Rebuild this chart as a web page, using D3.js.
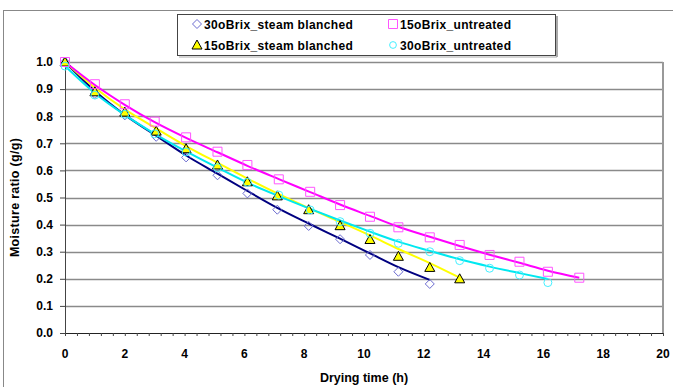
<!DOCTYPE html>
<html>
<head>
<meta charset="utf-8">
<script src="https://cdn.jsdelivr.net/npm/d3@7"></script>
<style>
  html, body { margin: 0; padding: 0; background: #fff; }
  svg text { font-family: "Liberation Sans", Arial, sans-serif; font-weight: bold; fill: #000; }
</style>
</head>
<body>
<svg id="chart" width="673" height="387"></svg>
<script>
// Measured points
const tBlanched = [0, 1, 2, 3.05, 4.05, 5.1, 6.1, 7.1, 8.15, 9.2, 10.2, 11.15, 12.2, 13.2];
const tUntreated = [0, 1, 2, 3, 4.05, 5.1, 6.1, 7.15, 8.2, 9.2, 10.2, 11.15, 12.2, 13.2, 14.2, 15.2, 16.15, 17.2];
const mr30Blanched = [1.0, 0.882, 0.803, 0.724, 0.648, 0.582, 0.515, 0.455, 0.395, 0.346, 0.288, 0.226, 0.181];
const mr15Blanched = [1.0, 0.89, 0.815, 0.745, 0.68, 0.62, 0.558, 0.506, 0.455, 0.396, 0.345, 0.283, 0.242, 0.2];
const mr15Untreated = [1.0, 0.918, 0.844, 0.78, 0.722, 0.669, 0.62, 0.567, 0.521, 0.472, 0.429, 0.39, 0.353, 0.325, 0.288, 0.263, 0.226, 0.204];
const mr30Untreated = [0.985, 0.878, 0.807, 0.735, 0.668, 0.61, 0.556, 0.509, 0.454, 0.411, 0.368, 0.331, 0.3, 0.267, 0.239, 0.214, 0.186];

// Fitted curves
const fit30Blanched = [1.0, 0.893, 0.805, 0.728, 0.655, 0.588, 0.524, 0.462, 0.404, 0.348, 0.294, 0.243, 0.196];
const fit15Blanched = [1.0, 0.905, 0.825, 0.755, 0.69, 0.628, 0.57, 0.515, 0.461, 0.41, 0.36, 0.31, 0.258, 0.204];
const fit15Untreated = [1.0, 0.915, 0.842, 0.778, 0.72, 0.667, 0.617, 0.568, 0.52, 0.474, 0.432, 0.392, 0.355, 0.321, 0.289, 0.259, 0.23, 0.204];
const fit30Untreated = [0.985, 0.885, 0.805, 0.735, 0.67, 0.61, 0.555, 0.505, 0.458, 0.415, 0.374, 0.337, 0.303, 0.272, 0.245, 0.221, 0.199];

const xTicks = [0, 2, 4, 6, 8, 10, 12, 14, 16, 18, 20];
const yTicks = [0, 0.1, 0.2, 0.3, 0.4, 0.5, 0.6, 0.7, 0.8, 0.9, 1.0];

const series = [
  { name: "30oBrix_steam blanched", t: tBlanched, v: mr30Blanched, fit: fit30Blanched, line: "#000080", marker: "diamond", stroke: "#6b6bd0", fill: "none" },
  { name: "15oBrix_steam blanched", t: tBlanched, v: mr15Blanched, fit: fit15Blanched, line: "#ffff00", marker: "triangle", stroke: "#000", fill: "#ffff00" },
  { name: "15oBrix_untreated", t: tUntreated, v: mr15Untreated, fit: fit15Untreated, line: "#ff00ff", marker: "square", stroke: "#ff55ff", fill: "none" },
  { name: "30oBrix_untreated", t: tUntreated, v: mr30Untreated, fit: fit30Untreated, line: "#00e8f0", marker: "circle", stroke: "#44f0ff", fill: "none" }
];

const svg = d3.select("#chart");
const m = { left: 65, right: 663, top: 62, bottom: 333 };
const FS = "12px";

const x = d3.scaleLinear().domain([0, 20]).range([m.left, m.right]);
const y = d3.scaleLinear().domain([0, 1]).range([m.bottom, m.top]);

// outer chart frame
svg.append("rect").attr("x", 3.5).attr("y", 10.5).attr("width", 700).attr("height", 400)
  .attr("fill", "none").attr("stroke", "#888").attr("stroke-width", 1);

// gridlines
svg.append("g").selectAll("line").data(yTicks.filter(d => d > 0)).join("line")
  .attr("x1", m.left).attr("x2", m.right)
  .attr("y1", d => Math.round(y(d)) + 0.5).attr("y2", d => Math.round(y(d)) + 0.5)
  .attr("stroke", "#8a8a8a").attr("stroke-width", 1.3);

// plot right border
svg.append("line").attr("x1", m.right).attr("x2", m.right).attr("y1", m.top).attr("y2", m.bottom)
  .attr("stroke", "#999").attr("stroke-width", 2);

// y axis
svg.append("g")
  .attr("transform", `translate(${m.left},0)`)
  .call(d3.axisLeft(y).tickValues(yTicks).tickSize(5).tickPadding(7).tickFormat(d3.format(".1f")))
  .call(ax => {
    ax.select(".domain").attr("stroke", "#444").attr("d", `M0.5,${m.top}V${m.bottom}`);
    ax.selectAll(".tick line").attr("stroke", "#444");
    ax.selectAll(".tick text").style("font-size", FS).style("font-family", "Liberation Sans, Arial, sans-serif").style("font-weight", "bold").attr("fill", "#000");
  });

// x axis: minor ticks every 0.4 pointing down
const minor = d3.range(0, 20.01, 0.4);
svg.append("g")
  .attr("transform", `translate(0,${m.bottom})`)
  .call(d3.axisBottom(x).tickValues(minor).tickSize(3).tickFormat(""))
  .call(ax => {
    ax.select(".domain").attr("stroke", "#222").attr("d", `M${m.left},0.5H${m.right}`);
    ax.selectAll(".tick line").attr("stroke", "#444");
  });
svg.append("g").selectAll("text").data(xTicks).join("text")
  .attr("x", d => x(d)).attr("y", 358)
  .attr("text-anchor", "middle")
  .style("font-size", FS)
  .text(d => d);

// axis titles
svg.append("text").attr("x", 364).attr("y", 382).attr("text-anchor", "middle")
  .style("font-size", "12.5px").text("Drying time (h)");
svg.append("text").attr("transform", `translate(19,${(m.top + m.bottom) / 2}) rotate(-90)`)
  .attr("text-anchor", "middle").style("font-size", "12.5px").style("letter-spacing", "0.3px").text("Moisture ratio (g/g)");

// markers
function markerPath(type) {
  switch (type) {
    case "diamond": return "M0,-4.5L4.5,0L0,4.5L-4.5,0Z";
    case "triangle": return "M0,-5L5,4L-5,4Z";
    case "square": return "M-4.5,-4.5H4.5V4.5H-4.5Z";
    default: return d3.symbol(d3.symbolCircle, 50)();
  }
}

const line = d3.line().x(d => x(d[0])).y(d => y(d[1])).curve(d3.curveMonotoneX);

series.forEach(s => {
  const pts = s.fit.map((v, i) => [s.t[i], v]);
  svg.append("path").datum(pts)
    .attr("fill", "none").attr("stroke", s.line).attr("stroke-width", 2).attr("d", line);
});

series.forEach(s => {
  svg.append("g").selectAll("path").data(s.v.map((v, i) => [s.t[i], v])).join("path")
    .attr("transform", d => `translate(${x(d[0])},${y(d[1])})`)
    .attr("d", markerPath(s.marker))
    .attr("fill", s.fill).attr("stroke", s.stroke).attr("stroke-width", 1);
});

// legend
const lg = svg.append("g");
lg.append("rect").attr("x", 177.5).attr("y", 14.5).attr("width", 378).attr("height", 41)
  .attr("fill", "#fff").attr("stroke", "#444").attr("stroke-width", 1);
lg.append("line").attr("x1", 557).attr("x2", 557).attr("y1", 16).attr("y2", 57).attr("stroke", "#aaa").attr("stroke-width", 2);
lg.append("line").attr("x1", 179).attr("x2", 557).attr("y1", 57).attr("y2", 57).attr("stroke", "#aaa").attr("stroke-width", 1);
const legendPos = [[197, 24], [197, 45], [393, 24], [393, 45]];
series.forEach((s, i) => {
  const [lx, ly] = legendPos[i];
  lg.append("path").attr("transform", `translate(${lx},${ly})`)
    .attr("d", s.marker === "circle" ? d3.symbol(d3.symbolCircle, 36)() : markerPath(s.marker))
    .attr("fill", s.fill).attr("stroke", s.stroke).attr("stroke-width", 1);
  lg.append("text").attr("x", lx + 7).attr("y", ly + 4.5).style("font-size", FS).style("letter-spacing", "0.35px").text(s.name);
});
</script>
</body>
</html>
